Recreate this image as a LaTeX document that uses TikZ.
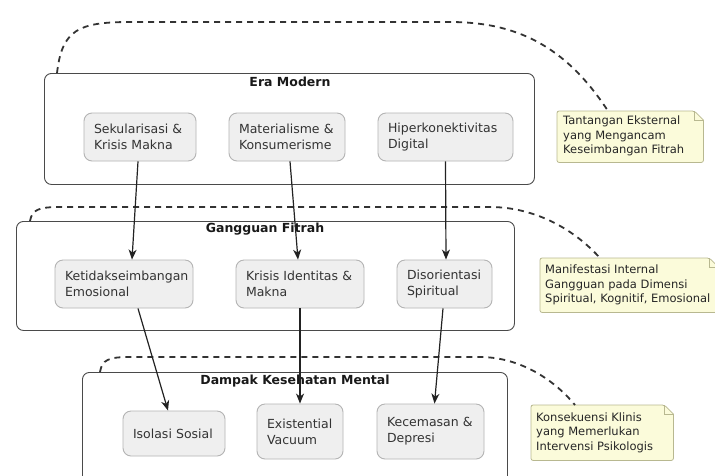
\documentclass[tikz,border=0pt]{standalone}
\usepackage{fontspec}
\setmainfont{DejaVu Sans}
\usetikzlibrary{arrows.meta,backgrounds}
\definecolor{boxfill}{HTML}{EFEFEF}
\definecolor{boxline}{HTML}{B4B4B4}
\definecolor{contline}{HTML}{4A4A4A}
\definecolor{notefill}{HTML}{FBFBDA}
\definecolor{noteline}{HTML}{B8B890}
\definecolor{arrowc}{HTML}{222222}
\tikzset{
  cont/.style={draw=contline,fill=white,line width=0.9pt,rounded corners=7pt},
  ctitle/.style={font=\fontsize{12.5}{15}\selectfont\bfseries,text=black!90},
  item/.style={draw=boxline,fill=boxfill,line width=0.9pt,rounded corners=8pt,
    align=left,font=\fontsize{12.5}{16}\selectfont,text=black!80,inner sep=0pt},
  notetext/.style={align=left,font=\fontsize{11.5}{14.5}\selectfont,text=black!85,inner sep=0pt},
  link/.style={draw=arrowc,line width=1.2pt,-{Stealth[length=10pt,width=8pt,inset=3pt]}},
  dlink/.style={draw=black!80,line width=1.8pt,dash pattern=on 6pt off 5pt},
}
\begin{document}
\begin{tikzpicture}[x=1pt,y=-1pt]
\useasboundingbox (0,0) rectangle (715,475);
% containers
\node[cont,minimum width=490pt,minimum height=111pt,anchor=north west] (era) at (44,73) {};
\node[ctitle] (eraT) at (290,82) {Era Modern};
\node[cont,minimum width=498pt,minimum height=109pt,anchor=north west] (gan) at (16,221) {};
\node[ctitle] (ganT) at (265,229) {Gangguan Fitrah};
\node[cont,minimum width=425pt,minimum height=115pt,anchor=north west] (dam) at (82,372) {};
\node[ctitle] (damT) at (295,381) {Dampak Kesehatan Mental};
% items
\node[item,minimum width=112pt,minimum height=48pt,text width=92pt] (sek) at (140,137) {Sekularisasi \&\\Krisis Makna};
\node[item,minimum width=116pt,minimum height=48pt,text width=96pt] (mat) at (287,137) {Materialisme \&\\Konsumerisme};
\node[item,minimum width=135pt,minimum height=48pt,text width=115pt] (hip) at (445.5,137) {Hiperkonektivitas\\Digital};
\node[item,minimum width=138pt,minimum height=48pt,text width=118pt] (ket) at (124,284) {Ketidakseimbangan\\Emosional};
\node[item,minimum width=128pt,minimum height=48pt,text width=108pt] (kri) at (300,284) {Krisis Identitas \&\\Makna};
\node[item,minimum width=95pt,minimum height=48pt,text width=75pt] (dis) at (444.5,284) {Disorientasi\\Spiritual};
\node[item,minimum width=102pt,minimum height=45pt,text width=82pt] (iso) at (174,433.5) {Isolasi Sosial};
\node[item,minimum width=86pt,minimum height=55pt,text width=66pt] (exi) at (300,431.5) {Existential\\Vacuum};
\node[item,minimum width=107pt,minimum height=55pt,text width=87pt] (kec) at (430.5,431.5) {Kecemasan \&\\Depresi};
% notes
\node[minimum width=146pt,minimum height=51pt,anchor=north west] (n1) at (557,111) {};
\node[notetext,anchor=west] (n1t) at (563,136) {Tantangan Eksternal\\yang Mengancam\\Keseimbangan Fitrah};
\node[minimum width=178pt,minimum height=54pt,anchor=north west] (n2) at (540,258) {};
\node[notetext,anchor=west] (n2t) at (545,285) {Manifestasi Internal\\Gangguan pada Dimensi\\Spiritual, Kognitif, Emosional};
\node[minimum width=142pt,minimum height=55pt,anchor=north west] (n3) at (531,405) {};
\node[notetext,anchor=west] (n3t) at (536,432.5) {Konsekuensi Klinis\\yang Memerlukan\\Intervensi Psikologis};
\begin{scope}[on background layer]
\foreach \n in {n1,n2,n3}{
  \filldraw[fill=notefill,draw=noteline,line width=0.8pt,rounded corners=2pt]
    (\n.south west) -- (\n.north west) -- ([xshift=-9pt]\n.north east)
    [sharp corners] -- ([yshift=-9pt]\n.north east) [rounded corners=2pt] -- (\n.south east) -- cycle;
  \draw[draw=noteline,line width=0.8pt] ([xshift=-9pt]\n.north east) |- ([yshift=-9pt]\n.north east);
}
\end{scope}
% dashed links
\draw[dlink] ([xshift=13pt]era.north west) .. controls (62,30) and (78,22) .. (130,22) -- (450,22) .. controls (515,22) and (565,45) .. ([xshift=51pt]n1.north west);
\draw[dlink] ([xshift=14pt]gan.north west) .. controls (32,210) and (38,207) .. (60,207) -- (490,207) .. controls (530,207) and (570,225) .. ([xshift=60pt]n2.north west);
\draw[dlink] ([xshift=18pt]dam.north west) .. controls (102,360) and (108,357) .. (130,357) -- (480,357) .. controls (515,357) and (550,375) .. ([xshift=44pt]n3.north west);
% arrows
\draw[link] ([xshift=-2pt]sek.south) -- ([xshift=8pt]ket.north);
\draw[link] ([xshift=3pt]mat.south) -- ([xshift=-2pt]kri.north);
\draw[link] (hip.south) -- ([xshift=1.5pt]dis.north);
\draw[link] ([xshift=14pt]ket.south) -- ([xshift=-6pt]iso.north);
\draw[link] (kri.south) -- (exi.north);
\draw[link] ([xshift=-1.5pt]dis.south) -- ([xshift=4pt]kec.north);
\end{tikzpicture}
\end{document}
